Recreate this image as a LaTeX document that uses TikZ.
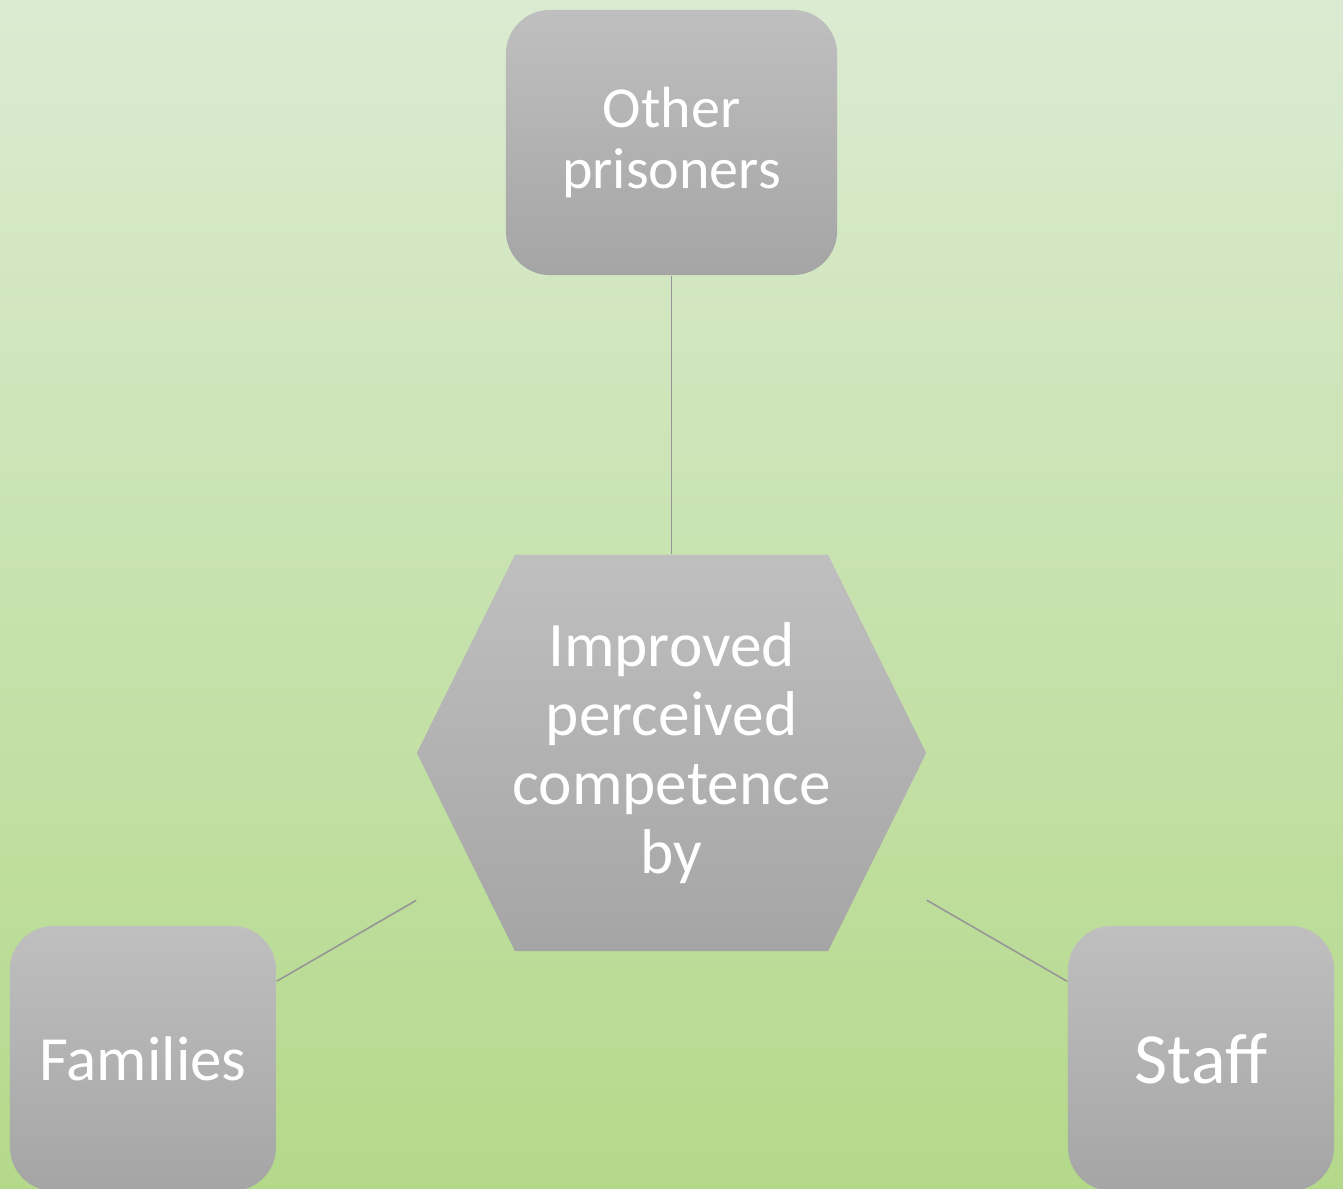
\documentclass[tikz,border=0pt]{standalone}
\usepackage{fontspec}
\setmainfont{Carlito}
\definecolor{bgtop}{RGB}{219,235,210}
\definecolor{bgbot}{RGB}{180,217,138}
\definecolor{boxtop}{RGB}{191,191,191}
\definecolor{boxbot}{RGB}{165,165,165}
\definecolor{linkgray}{RGB}{150,150,150}

\begin{document}
\begin{tikzpicture}[x=0.01cm, y=-0.01cm]
    \tikzset{
        roundbox/.style={rounded corners=0.44cm, top color=boxtop, bottom color=boxbot,
            text=white, align=center, inner sep=0pt},
        hexbox/.style={minimum width=5.09cm, minimum height=3.96cm, inner sep=0pt,
            text=white, align=center,
            path picture={\shade[top color=boxtop, bottom color=boxbot]
                (path picture bounding box.west)
                -- ([xshift=0.98cm]path picture bounding box.north west)
                -- ([xshift=-0.98cm]path picture bounding box.north east)
                -- (path picture bounding box.east)
                -- ([xshift=-0.98cm]path picture bounding box.south east)
                -- ([xshift=0.98cm]path picture bounding box.south west)
                -- cycle;}},
        link/.style={linkgray, line width=0.45pt}
    }
    % background
    \shade[top color=bgtop, bottom color=bgbot] (0, 0) rectangle (1343, 1189);
    \useasboundingbox (0, 0) rectangle (1343, 1189);

    \node[hexbox, font=\fontsize{18pt}{19.6pt}\selectfont] (competence) at (671.5, 753)
        {Improved\\perceived\\competence\\by};
    \node[roundbox, minimum width=3.31cm, minimum height=2.65cm,
        font=\fontsize{16.5pt}{17.6pt}\selectfont] (prisoners) at (671.5, 142.5)
        {Other\\prisoners};
    \node[roundbox, minimum width=2.66cm, minimum height=2.65cm,
        font=\fontsize{17.9pt}{19pt}\selectfont] (families) at (143, 1058.5) {Families};
    \node[roundbox, minimum width=2.66cm, minimum height=2.65cm,
        font=\fontsize{20.5pt}{22pt}\selectfont] (staff) at (1201, 1058.5) {Staff};

    \draw[link] (competence) -- (prisoners);
    \draw[link] (competence) -- (families);
    \draw[link] (competence) -- (staff);
\end{tikzpicture}
\end{document}
